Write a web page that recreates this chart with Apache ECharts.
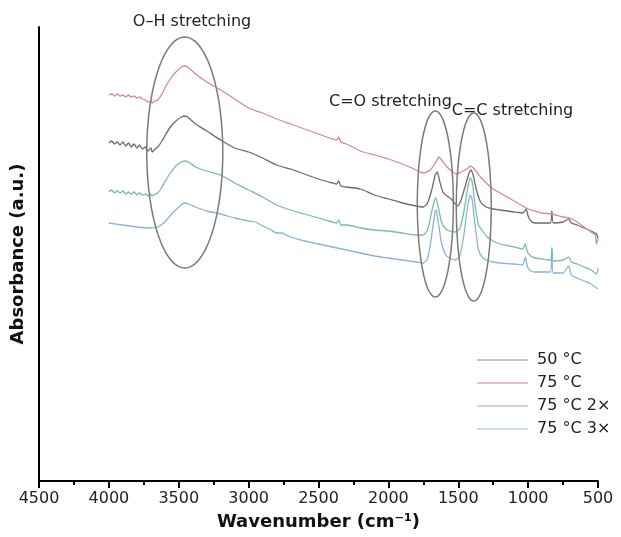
<!DOCTYPE html>
<html>
<head>
<meta charset="utf-8">
<title>FTIR spectra</title>
<script src="https://cdn.jsdelivr.net/npm/echarts@6/dist/echarts.min.js"></script>
<style>
  html, body { margin: 0; padding: 0; background: #fff; }
  #chart { width: 621px; height: 537px; }
</style>
</head>
<body>
<div id="chart"></div>
<script>
// Wavenumber axis ticks (cm-1)
const xTicks = { min: 500, max: 4500, step: 500 };

// Series names as shown in the legend
const seriesNames = ['50 °C', '75 °C', '75 °C 2×', '75 °C 3×'];

// FTIR spectra: [wavenumber (cm-1), absorbance (a.u., stacked offsets)]
const spec50 = [
  [4000,3.38],[3980,3.40],[3960,3.37],[3940,3.39],[3920,3.36],[3900,3.39],[3880,3.35],[3860,3.38],
  [3840,3.34],[3820,3.37],[3800,3.33],[3780,3.36],[3760,3.32],[3740,3.34],[3720,3.30],[3700,3.33],
  [3690,3.29],[3670,3.32],[3650,3.34],[3620,3.40],[3600,3.45],[3560,3.54],[3520,3.60],[3480,3.64],
  [3450,3.65],[3420,3.62],[3380,3.57],[3300,3.50],[3200,3.41],[3100,3.33],[3000,3.29],[2900,3.23],
  [2800,3.16],[2700,3.12],[2600,3.07],[2500,3.02],[2400,2.98],[2370,2.97],[2355,3.00],[2340,2.95],
  [2300,2.94],[2200,2.92],[2100,2.86],[2000,2.82],[1900,2.78],[1800,2.75],[1750,2.74],[1720,2.78],
  [1690,2.91],[1665,3.06],[1650,3.09],[1635,3.01],[1610,2.89],[1580,2.85],[1550,2.82],[1520,2.77],
  [1505,2.75],[1480,2.81],[1450,2.95],[1425,3.07],[1410,3.11],[1395,3.07],[1370,2.91],[1340,2.79],
  [1300,2.74],[1250,2.72],[1200,2.71],[1100,2.69],[1040,2.68],[1015,2.72],[1000,2.65],[980,2.60],
  [950,2.58],[900,2.58],[840,2.58],[830,2.70],[820,2.58],[750,2.59],[710,2.62],[690,2.58],
  [650,2.56],[600,2.53],[550,2.50],[510,2.47],[500,2.43]
];

const spec75 = [
  [4000,3.86],[3980,3.87],[3960,3.85],[3940,3.87],[3920,3.85],[3900,3.86],[3880,3.84],[3860,3.86],
  [3840,3.84],[3820,3.85],[3800,3.83],[3780,3.84],[3760,3.82],[3740,3.81],[3720,3.79],[3700,3.80],
  [3690,3.78],[3670,3.80],[3650,3.81],[3620,3.87],[3600,3.93],[3560,4.02],[3520,4.09],[3480,4.14],
  [3450,4.15],[3420,4.12],[3380,4.07],[3300,3.99],[3200,3.91],[3100,3.82],[3000,3.73],[2900,3.68],
  [2800,3.62],[2700,3.57],[2600,3.52],[2500,3.47],[2400,3.42],[2370,3.41],[2355,3.44],[2340,3.39],
  [2300,3.37],[2200,3.30],[2100,3.26],[2000,3.22],[1900,3.17],[1800,3.11],[1750,3.08],[1700,3.11],
  [1660,3.19],[1640,3.24],[1620,3.21],[1580,3.14],[1540,3.09],[1510,3.07],[1480,3.09],[1440,3.12],
  [1410,3.15],[1380,3.11],[1340,3.04],[1300,2.98],[1250,2.92],[1200,2.88],[1150,2.84],[1100,2.80],
  [1050,2.76],[1000,2.72],[950,2.70],[900,2.68],[830,2.67],[750,2.64],[700,2.63],[650,2.59],
  [600,2.54],[550,2.49],[520,2.46],[510,2.37],[500,2.43]
];

const spec75x2 = [
  [4000,2.58],[3900,2.56],[3800,2.54],[3700,2.53],[3650,2.54],[3600,2.59],[3550,2.67],[3500,2.74],
  [3460,2.78],[3430,2.77],[3380,2.74],[3300,2.70],[3200,2.67],[3100,2.63],[3000,2.60],[2950,2.59],
  [2900,2.55],[2850,2.52],[2800,2.48],[2760,2.48],[2720,2.45],[2650,2.42],[2600,2.40],[2500,2.37],
  [2400,2.34],[2300,2.31],[2200,2.28],[2100,2.25],[2000,2.23],[1900,2.21],[1800,2.19],[1750,2.18],
  [1720,2.22],[1695,2.41],[1670,2.66],[1660,2.71],[1645,2.61],[1620,2.38],[1590,2.26],[1560,2.23],
  [1520,2.21],[1490,2.25],[1460,2.46],[1435,2.73],[1415,2.86],[1400,2.81],[1380,2.56],[1355,2.31],
  [1330,2.24],[1300,2.21],[1250,2.19],[1200,2.18],[1100,2.17],[1040,2.16],[1020,2.24],[1005,2.14],
  [980,2.10],[950,2.09],[900,2.09],[840,2.09],[830,2.33],[820,2.08],[750,2.08],[710,2.15],
  [690,2.06],[650,2.03],[600,2.00],[550,1.97],[500,1.92]
];

const spec75x3 = [
  [4000,2.89],[3980,2.91],[3960,2.88],[3940,2.90],[3920,2.88],[3900,2.90],[3880,2.87],[3860,2.89],
  [3840,2.87],[3820,2.89],[3800,2.86],[3780,2.88],[3760,2.86],[3740,2.87],[3720,2.85],[3700,2.87],
  [3690,2.85],[3670,2.87],[3650,2.88],[3620,2.94],[3600,2.99],[3560,3.08],[3520,3.15],[3480,3.19],
  [3450,3.20],[3420,3.18],[3380,3.14],[3300,3.10],[3200,3.06],[3100,2.98],[3000,2.91],[2900,2.84],
  [2800,2.76],[2700,2.71],[2600,2.67],[2500,2.63],[2400,2.59],[2370,2.58],[2355,2.61],[2340,2.56],
  [2300,2.56],[2200,2.53],[2100,2.51],[2000,2.50],[1900,2.48],[1800,2.46],[1750,2.46],[1720,2.51],
  [1695,2.66],[1670,2.81],[1660,2.83],[1645,2.75],[1620,2.59],[1590,2.52],[1560,2.50],[1520,2.49],
  [1490,2.52],[1460,2.69],[1435,2.91],[1415,3.03],[1400,2.99],[1380,2.76],[1355,2.56],[1330,2.51],
  [1300,2.45],[1250,2.40],[1200,2.37],[1100,2.34],[1040,2.32],[1020,2.37],[1005,2.29],[980,2.25],
  [950,2.23],[900,2.22],[840,2.21],[830,2.33],[820,2.20],[750,2.21],[710,2.24],[690,2.19],
  [650,2.17],[600,2.14],[550,2.11],[510,2.07],[500,2.13]
];

// Band regions marked with ellipses: [centre wavenumber, centre absorbance, half-width cm-1, half-height a.u.]
const bandEllipses = [
  [3457, 3.285, 272, 1.155],
  [1664, 2.77, 129, 0.93],
  [1389, 2.74, 125, 0.94]
];

// Band labels: [wavenumber, absorbance] anchor and text
const bandLabelPos = [[3405, 4.59], [1985, 3.79], [1112, 3.70]];
const bandLabelText = ['O–H stretching', 'C=O stretching', 'C=C stretching'];

const lineColors = ['#6b6b6b', '#d98a8c', '#8db2d8', '#78bf9a'];
const legendColors = ['#c4c4c4', '#e8c3c4', '#c5d6ea', '#c3e2d2'];

const spectra = [spec50, spec75, spec75x2, spec75x3];

const chart = echarts.init(document.getElementById('chart'), null, { renderer: 'canvas' });

const lineSeries = spectra.map((d, i) => ({
  name: seriesNames[i],
  type: 'line',
  data: d,
  symbol: 'none',
  smooth: 0.2,
  lineStyle: { color: lineColors[i], width: 1.3 },
  itemStyle: { color: legendColors[i] },
  z: 2
}));

const ellipseSeries = {
  type: 'custom',
  silent: true,
  data: bandEllipses,
  encode: { x: 0, y: 1 },
  renderItem: function (params, api) {
    const c = api.coord([api.value(0), api.value(1)]);
    const ex = api.coord([api.value(0) + api.value(2), api.value(1)]);
    const ey = api.coord([api.value(0), api.value(1) + api.value(3)]);
    const rx = Math.abs(ex[0] - c[0]);
    const ry = Math.abs(ey[1] - c[1]);
    const pts = [];
    for (let k = 0; k < 120; k++) {
      const t = (k / 120) * Math.PI * 2;
      pts.push([c[0] + rx * Math.cos(t), c[1] + ry * Math.sin(t)]);
    }
    return {
      type: 'polygon',
      shape: { points: pts },
      style: { fill: 'none', stroke: '#7a7a7a', lineWidth: 1.5 }
    };
  },
  z: 3
};

const labelSeries = {
  type: 'custom',
  silent: true,
  data: bandLabelPos,
  encode: { x: 0, y: 1 },
  clip: false,
  renderItem: function (params, api) {
    const p = api.coord([api.value(0), api.value(1)]);
    return {
      type: 'text',
      x: p[0],
      y: p[1],
      style: {
        text: bandLabelText[params.dataIndex],
        font: '16px "DejaVu Sans"',
        fill: '#222',
        align: 'center',
        verticalAlign: 'middle'
      }
    };
  },
  z: 4
};

chart.setOption({
  animation: false,
  backgroundColor: '#fff',
  grid: { left: 39, right: 23, top: 27, bottom: 56, containLabel: false },
  legend: {
    data: seriesNames,
    orient: 'vertical',
    left: 477,
    top: 352,
    padding: 0,
    icon: 'rect',
    itemWidth: 51,
    itemHeight: 2,
    itemGap: 7,
    textStyle: { fontFamily: 'DejaVu Sans', fontSize: 16, color: '#222', padding: [0, 0, 0, 4] }
  },
  xAxis: {
    type: 'value',
    inverse: true,
    min: xTicks.min,
    max: xTicks.max,
    interval: xTicks.step,
    name: 'Wavenumber (cm⁻¹)',
    nameLocation: 'middle',
    nameGap: 32,
    nameTextStyle: { fontFamily: 'DejaVu Sans', fontWeight: 'bold', fontSize: 18, color: '#111' },
    axisLine: { show: true, onZero: false, lineStyle: { color: '#000', width: 2 } },
    axisTick: { show: true, length: 7, lineStyle: { color: '#000', width: 2 } },
    minorTick: { show: true, splitNumber: 2, length: 4, lineStyle: { color: '#000', width: 2 } },
    axisLabel: {
      fontFamily: 'DejaVu Sans', fontSize: 16, color: '#222', margin: 10,
      formatter: function (v) { return String(v); }
    },
    splitLine: { show: false }
  },
  yAxis: {
    type: 'value',
    min: 0,
    max: 4.54,
    name: 'Absorbance (a.u.)',
    nameLocation: 'middle',
    nameGap: 12,
    nameTextStyle: { fontFamily: 'DejaVu Sans', fontWeight: 'bold', fontSize: 18, color: '#111' },
    axisLine: { show: true, lineStyle: { color: '#000', width: 2 } },
    axisTick: { show: false },
    axisLabel: { show: false },
    splitLine: { show: false }
  },
  series: [...lineSeries, ellipseSeries, labelSeries]
});
</script>
</body>
</html>
